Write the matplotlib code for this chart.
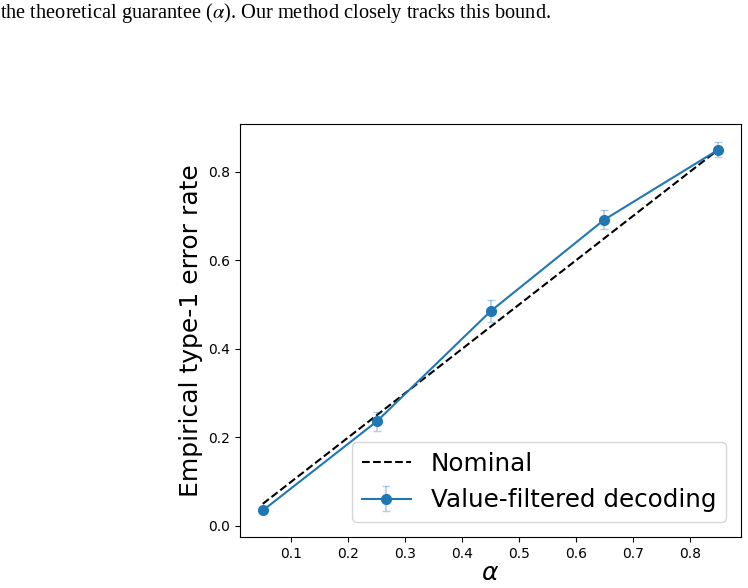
import matplotlib
matplotlib.use("Agg")
import matplotlib.pyplot as plt

# alpha levels and observed type-1 error rates
alphas = [0.05, 0.25, 0.45, 0.65, 0.85]
err_rate = [0.035, 0.236, 0.485, 0.692, 0.850]
err_std = [0.004, 0.022, 0.025, 0.022, 0.017]
nominal = [0.05, 0.25, 0.45, 0.65, 0.85]

caption = r"the theoretical guarantee ($\alpha$). Our method closely tracks this bound."

fig = plt.figure(figsize=(7.48, 5.88), dpi=100)
ax = fig.add_axes([0.3209, 0.0867, 0.6697, 0.7023])

ax.plot(alphas, nominal, 'k--', linewidth=1.5, label='Nominal')
ax.errorbar(alphas, err_rate, yerr=err_std, fmt='-o', color='#1f77b4',
            ecolor='#1f77b4', elinewidth=1.2, capsize=3, markersize=7,
            label='Value-filtered decoding')
# lighten the error bars
for c in ax.containers:
    for art in c.lines[1] + c.lines[2]:
        art.set_alpha(0.35)

ax.set_xlabel(r'$\alpha$', fontsize=18, labelpad=0)
ax.set_ylabel('Empirical type-1 error rate', fontsize=18)
ax.set_xticks([0.1, 0.2, 0.3, 0.4, 0.5, 0.6, 0.7, 0.8])
ax.set_yticks([0.0, 0.2, 0.4, 0.6, 0.8])
ax.set_ylim(-0.025, 0.908)
ax.legend(loc='lower right', fontsize=17.75, borderaxespad=0.6)

fig.text(0.0, 0.999, caption, fontsize=14.7, family='Liberation Serif',
         math_fontfamily='stix', va='top', ha='left')

fig.savefig('out.png', dpi=100)
